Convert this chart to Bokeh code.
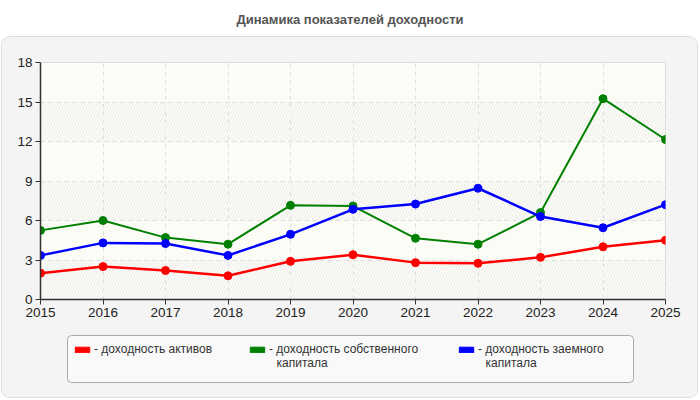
from bokeh.plotting import figure
from bokeh.models import (Range1d, FixedTicker, Legend, LegendItem, ColumnDataSource, Div, Label,
                          BoxAnnotation)
from bokeh.layouts import column
from bokeh.embed import file_html
from bokeh.resources import INLINE

years = [2015, 2016, 2017, 2018, 2019, 2020, 2021, 2022, 2023, 2024, 2025]
roa = [2.0, 2.5, 2.2, 1.8, 2.9, 3.4, 2.8, 2.75, 3.2, 4.0, 4.5]
roe = [5.25, 6.0, 4.7, 4.2, 7.15, 7.1, 4.65, 4.2, 6.6, 15.25, 12.15]
rod = [3.35, 4.3, 4.25, 3.35, 4.95, 6.85, 7.25, 8.45, 6.3, 5.45, 7.2]
y_ticks = [0, 3, 6, 9, 12, 15, 18]
title_text = "Динамика показателей доходности"
labels_first = ["- доходность активов", "- доходность собственного", "- доходность заемного"]
labels_second = ["", "капитала", "капитала"]
colors = ["#ff0000", "#008000", "#0000ff"]
widths = [2.5, 2, 2.5]
series = [roa, roe, rod]

FONT = "Liberation Sans"
PANEL = "#f4f4f4"

title = Div(text=title_text, width=700, height=37, margin=0,
            styles={"text-align": "center", "font-family": FONT, "font-size": "13px",
                    "font-weight": "bold", "color": "#555555", "line-height": "40px",
                    "width": "700px"})

p = figure(width=695, height=293, output_backend="svg", toolbar_location=None,
           x_range=Range1d(2015, 2025), y_range=Range1d(0, 18),
           min_border_left=38, min_border_right=32, min_border_top=25, min_border_bottom=31,
           border_fill_color=PANEL, background_fill_color="#fcfcf6",
           outline_line_color="#dddddd", margin=0)

for ax in (p.xaxis[0], p.yaxis[0]):
    ax.axis_line_color = "#333333"
    ax.axis_line_width = 1.5
    ax.major_tick_line_color = "#333333"
    ax.major_tick_out = 5
    ax.major_tick_in = 0
    ax.minor_tick_line_color = None
    ax.major_label_text_font = FONT
    ax.major_label_text_font_size = "13.5px"
    ax.major_label_text_color = "#222222"
    ax.major_label_standoff = 3
p.xaxis.ticker = FixedTicker(ticks=years)
p.yaxis.ticker = FixedTicker(ticks=y_ticks)

p.xgrid.grid_line_color = "#dddddd"
p.xgrid.grid_line_dash = "4 4"
p.ygrid.grid_line_color = "#dddddd"
p.ygrid.grid_line_dash = "4 4"
# extra near-zero grid tick shifts the band alternation so 0-3, 6-9, 12-15 are hatched
p.ygrid.ticker = FixedTicker(ticks=[0, 0.001] + y_ticks[1:])
p.ygrid.band_fill_color = None
p.ygrid.band_hatch_pattern = "/"
p.ygrid.band_hatch_color = "#ebebeb"
p.ygrid.band_hatch_scale = 6
p.ygrid.band_hatch_weight = 1

for vals, col, w in zip(series, colors, widths):
    p.line(years, vals, line_color=col, line_width=w)
    p.scatter(years, vals, size=8, fill_color=col, line_color=col)

# legend strip (frame spans canvas x 40..665, y 330..397; 1 data unit = 1 px)
lg = figure(width=695, height=67, output_backend="svg", toolbar_location=None,
            x_range=Range1d(0, 625), y_range=Range1d(0, 67),
            x_axis_type=None, y_axis_type=None,
            min_border_left=38, min_border_right=32, min_border_top=0, min_border_bottom=0,
            border_fill_color=PANEL, background_fill_color=PANEL,
            outline_line_color=None, margin=0)
lg.grid.visible = False
lg.add_layout(BoxAnnotation(left=27, right=593, bottom=15, top=62, fill_color="#f9f9f9",
                            fill_alpha=1, line_color="#aaaaaa", line_alpha=1, line_width=1,
                            border_radius=4))

src = ColumnDataSource(dict(top=[-10], bottom=[-11], left=[-10], right=[-9]))
swatch_x = [37, 212, 421]
for col, lab1, lab2, sx in zip(colors, labels_first, labels_second, swatch_x):
    dummy = lg.quad(left="left", right="right", top="top", bottom="bottom", source=src,
                    fill_color=col, line_color=col)
    leg = Legend(items=[LegendItem(label=lab1, renderers=[dummy])], location=(sx - 4, 39),
                 background_fill_alpha=0, border_line_color=None,
                 label_text_font=FONT, label_text_font_size="12px", label_text_color="#333333",
                 glyph_width=18, glyph_height=7, label_standoff=3, padding=4, margin=0,
                 label_height=18)
    lg.add_layout(leg)
    if lab2:
        lg.add_layout(Label(x=sx + 24, y=35, text=lab2, text_font=FONT, text_font_size="12px",
                            text_color="#333333", text_baseline="middle"))

panel = column(p, lg, spacing=0, margin=(0, 3, 3, 2),
               styles={"border-radius": "8px", "overflow": "hidden",
                       "box-shadow": "0 0 0 1px #dddddd", "background": PANEL})

open("out.html", "w").write(file_html(column(title, panel, spacing=0, margin=0), INLINE))
